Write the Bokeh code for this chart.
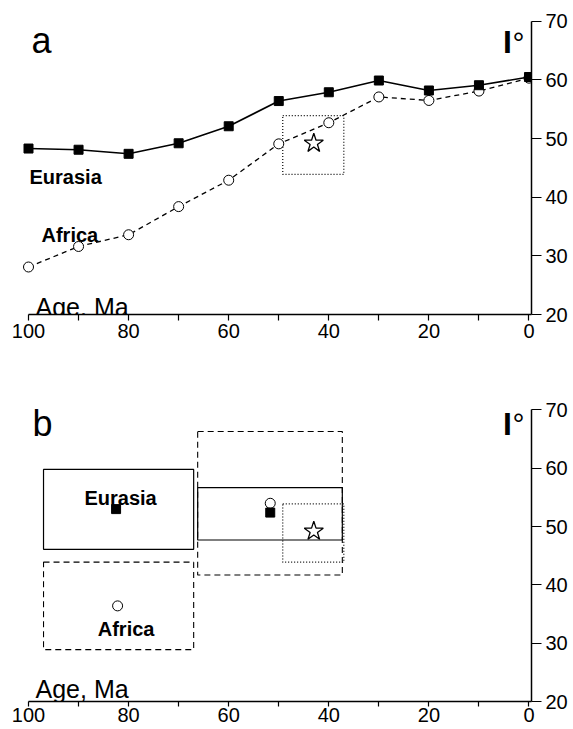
from bokeh.plotting import figure
from bokeh.models import Range1d, LinearAxis, FixedTicker, Label
from bokeh.layouts import column
from bokeh.embed import file_html
from bokeh.resources import INLINE

# ---------------- data ----------------
# Panel a: predicted inclinations every 10 Myr
age_ma = [100, 90, 80, 70, 60, 50, 40, 30, 20, 10, 0]
eurasia_incl = [48.3, 48.1, 47.4, 49.2, 52.1, 56.4, 57.9, 59.9, 58.2, 59.1, 60.5]
africa_incl = [28.1, 31.6, 33.6, 38.4, 42.9, 49.1, 52.7, 57.1, 56.5, 58.1, 60.3]

# observed inclination (star) and its uncertainty box
star_age = [43.0]
star_incl = [49.2]
star_box_old = [49.2]
star_box_young = [37.0]
star_box_lo = [43.9]
star_box_hi = [53.9]

# Panel b: window averages
win_old = [97.0, 66.2]
win_young = [67.0, 37.3]
eurasia_lo = [46.1, 47.7]
eurasia_hi = [59.8, 56.7]
africa_lo = [28.9, 41.7]
africa_hi = [43.9, 66.3]
eurasia_mean_age = [82.5, 51.7]
eurasia_mean_incl = [53.0, 52.4]
africa_mean_age = [82.2, 51.7]
africa_mean_incl = [36.4, 54.0]

x_ticks = [0, 20, 40, 60, 80, 100]
x_minor_ticks = [10, 30, 50, 70, 90]
y_ticks = [20, 30, 40, 50, 60, 70]

FONT = "Liberation Sans"
X_END = -0.5


def make_panel(y_top, height, b_top, b_bottom, xtick_out, xstandoff):
    p = figure(output_backend="svg", toolbar_location=None,
               x_range=Range1d(101.4, X_END), y_range=Range1d(20, y_top),
               width=573, height=height,
               min_border_left=21, min_border_right=42,
               min_border_top=b_top, min_border_bottom=b_bottom,
               x_axis_location=None, y_axis_location=None)
    p.outline_line_color = None
    p.background_fill_color = "white"
    p.grid.visible = False
    p.xgrid.visible = False
    p.ygrid.visible = False

    xax = LinearAxis(ticker=FixedTicker(ticks=x_ticks, minor_ticks=x_minor_ticks),
                     bounds=(X_END, 100))
    xax.axis_line_width = 1.5
    xax.major_tick_in = 0
    xax.major_tick_out = xtick_out
    xax.minor_tick_in = 0
    xax.minor_tick_out = xtick_out
    xax.major_tick_line_width = 1.2
    xax.minor_tick_line_width = 1.2
    xax.major_label_standoff = xstandoff
    xax.major_label_text_font = FONT
    xax.major_label_text_font_size = "20px"
    xax.major_label_text_color = "black"
    p.add_layout(xax, "below")

    yax = LinearAxis(ticker=FixedTicker(ticks=y_ticks, minor_ticks=[]),
                     bounds=(20, 70))
    yax.axis_line_width = 1.5
    yax.major_tick_in = 0
    yax.major_tick_out = 10
    yax.major_tick_line_width = 1.2
    yax.minor_tick_in = 0
    yax.minor_tick_out = 0
    yax.major_label_standoff = 4
    yax.major_label_text_font = FONT
    yax.major_label_text_font_size = "20px"
    yax.major_label_text_color = "black"
    p.add_layout(yax, "right")
    return p


def add_label(p, x, y, text, size, bold=False, align="left"):
    p.add_layout(Label(x=x, y=y, text=text, text_font=FONT,
                       text_font_size=size,
                       text_font_style="bold" if bold else "normal",
                       text_baseline="alphabetic", text_align=align,
                       text_color="black"))


# ---------------- panel a ----------------
pa = make_panel(71.5, 348, 12, 34, 6, 3)

pa.quad(left=star_box_old, right=star_box_young, bottom=star_box_lo, top=star_box_hi,
        fill_color=None, line_color="black", line_width=1.2, line_dash="1 2")
pa.line(age_ma, africa_incl, line_color="black", line_width=1.3, line_dash="5 4")
pa.line(age_ma, eurasia_incl, line_color="black", line_width=1.6)
pa.scatter(age_ma, africa_incl, marker="circle", size=10,
           fill_color="white", line_color="black", line_width=1)
pa.scatter(age_ma, eurasia_incl, marker="square", size=9,
           fill_color="black", line_color="black")
pa.scatter(star_age, star_incl, marker="star", size=20,
           fill_color="white", line_color="black", line_width=1.3)

add_label(pa, 99.4, 66.8, "a", "36px")
add_label(pa, 5.2, 66.4, "I", "32px", bold=True)
add_label(pa, 3.3, 66.4, "°", "30px")
add_label(pa, 99.8, 43.4, "Eurasia", "20px", bold=True)
add_label(pa, 97.4, 33.5, "Africa", "20px", bold=True)
add_label(pa, 98.6, 21.35, "Age, Ma", "25px")

# ---------------- panel b ----------------
pb = make_panel(73, 381, 44, 28, 5, 1)

pb.quad(left=win_old, right=win_young, bottom=africa_lo, top=africa_hi,
        fill_color=None, line_color="black", line_width=1.1, line_dash="6 4")
pb.quad(left=win_old, right=win_young, bottom=eurasia_lo, top=eurasia_hi,
        fill_color=None, line_color="black", line_width=1.2)
pb.quad(left=star_box_old, right=star_box_young, bottom=star_box_lo, top=star_box_hi,
        fill_color=None, line_color="black", line_width=1.2, line_dash="1 2")
pb.scatter(africa_mean_age, africa_mean_incl, marker="circle", size=10,
           fill_color="white", line_color="black", line_width=1)
pb.scatter(eurasia_mean_age, eurasia_mean_incl, marker="square", size=9,
           fill_color="black", line_color="black")
pb.scatter(star_age, star_incl, marker="star", size=20,
           fill_color="white", line_color="black", line_width=1.3)

add_label(pb, 99.2, 67.6, "b", "36px")
add_label(pb, 5.2, 67.6, "I", "32px", bold=True)
add_label(pb, 3.3, 67.6, "°", "30px")
add_label(pb, 81.6, 54.9, "Eurasia", "20px", bold=True, align="center")
add_label(pb, 80.5, 32.5, "Africa", "20px", bold=True, align="center")
add_label(pb, 98.6, 22.2, "Age, Ma", "25px")

layout = column(pa, pb, spacing=0)
open("out.html", "w").write(file_html(layout, INLINE))
